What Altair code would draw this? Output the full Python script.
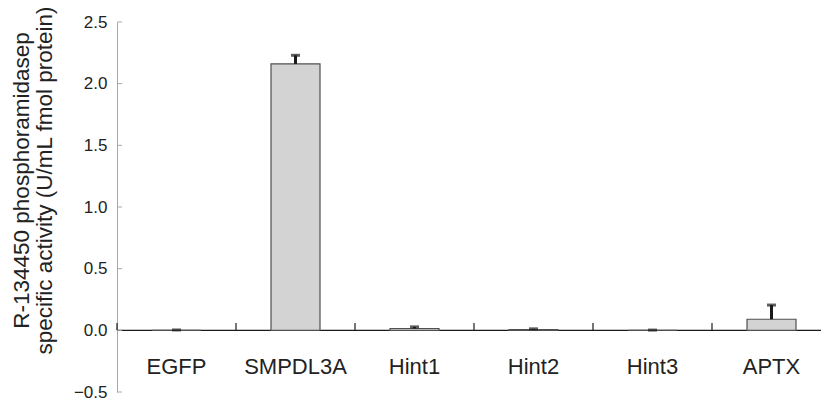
import altair as alt
import pandas as pd

cats = ["EGFP", "SMPDL3A", "Hint1", "Hint2", "Hint3", "APTX"]
values = [0.0, 2.16, 0.015, 0.006, 0.0, 0.09]
errors = [0.003, 0.07, 0.013, 0.006, 0.002, 0.115]
yticks = [-0.5, 0.0, 0.5, 1.0, 1.5, 2.0, 2.5]
ytitle = ["R-134450 phosphoramidasep", "specific activity (U/mL fmol protein)"]

df = pd.DataFrame({"cat": cats, "value": values, "err": errors})
df["top"] = df["value"] + df["err"]
tick_df = pd.DataFrame({"t": yticks})
zero_df = pd.DataFrame({"z": [0.0]})

FONT = "Liberation Sans"
W, H = 704, 370

xscale = alt.Scale(domain=cats, range=[0, 714], paddingInner=0, paddingOuter=0)
ysc = alt.Scale(domain=[-0.5, 2.5], nice=False, zero=False)

base = alt.Chart(df)

bars = base.mark_bar(size=49, color="#d3d3d3", stroke="#505050", strokeWidth=1.2).encode(
    x=alt.X("cat:N", sort=cats, scale=xscale, axis=None),
    y=alt.Y("value:Q", scale=ysc,
            axis=alt.Axis(values=yticks, format=".1f", tickSize=0, domainColor="#a8a8a8",
                          domainWidth=1, labelFontSize=17, labelFont=FONT, labelColor="#222222",
                          labelPadding=10, grid=False, title=ytitle, titleFont=FONT,
                          titleFontSize=22.5, titleFontWeight="normal", titleColor="#222222",
                          titleX=-96, titleY=158, titleBaseline="middle", titleLineHeight=23)),
    y2=alt.datum(0),
)

err_rule = base.mark_rule(strokeWidth=3, color="#1a1a1a").encode(
    x=alt.X("cat:N", sort=cats, scale=xscale, axis=None),
    y=alt.Y("value:Q", scale=ysc),
    y2="top:Q",
)
err_cap = base.mark_tick(size=9, thickness=3, color="#1a1a1a").encode(
    x=alt.X("cat:N", sort=cats, scale=xscale, axis=None),
    y=alt.Y("top:Q", scale=ysc),
)

zero_line = alt.Chart(zero_df).mark_rule(color="#1a1a1a", strokeWidth=1.3).encode(
    x=alt.value(0), x2=alt.value(W), y=alt.Y("z:Q", scale=ysc)
)
band_ticks = base.mark_rule(color="#1a1a1a", strokeWidth=1.2).encode(
    x=alt.X("cat:N", sort=cats, scale=xscale, axis=None, bandPosition=0),
    y=alt.Y(datum=0, scale=ysc),
    y2=alt.value(301),
)
y_ticks = alt.Chart(tick_df).mark_rule(color="#a8a8a8", strokeWidth=1).encode(
    x=alt.value(0), x2=alt.value(5), y=alt.Y("t:Q", scale=ysc)
)
labels = base.mark_text(fontSize=22, font=FONT, color="#222222", baseline="middle").encode(
    x=alt.X("cat:N", sort=cats, scale=xscale, axis=None),
    y=alt.value(345),
    text="cat:N",
)

chart = alt.layer(zero_line, band_ticks, y_ticks, bars, err_rule, err_cap, labels).properties(
    width=W, height=H,
    autosize=alt.AutoSizeParams(type="none"),
    padding={"left": 117, "top": 22, "right": 0, "bottom": 8},
    background="white",
).configure_view(stroke=None)

chart.save("out.html", embed_options={"renderer": "svg", "actions": False})
